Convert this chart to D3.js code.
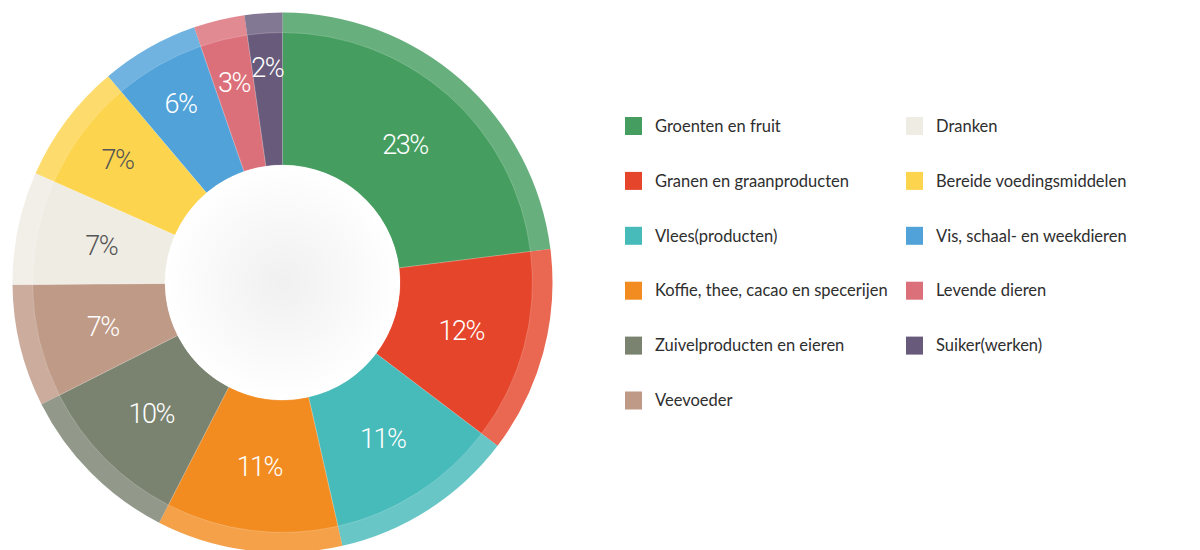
<!DOCTYPE html>
<html>
<head>
<meta charset="utf-8">
<script src="https://cdn.jsdelivr.net/npm/d3@7"></script>
<style>
  body { margin: 0; background: #fff; }
  .legend-text { font-family: "Lato", "Open Sans", sans-serif; font-size: 16.5px; fill: #2e2e2e; }
  .pct { font-family: "Roboto", sans-serif; font-weight: 300; font-size: 27px; letter-spacing: -1.5px; }
</style>
</head>
<body>
<div id="main"></div>
<script>
// shares per product group (percent)
var categories = ["Groenten en fruit", "Granen en graanproducten", "Vlees(producten)",
    "Koffie, thee, cacao en specerijen", "Zuivelproducten en eieren", "Veevoeder",
    "Dranken", "Bereide voedingsmiddelen", "Vis, schaal- en weekdieren",
    "Levende dieren", "Suiker(werken)"];
var values = [23.0, 12.3, 11.1, 11.1, 10.0, 7.3, 6.75, 7.2, 5.86, 3.05, 2.25];
var colors = ["#459e60", "#e5452b", "#47baba", "#f28c21", "#7a8370", "#bf9a87",
    "#eeece3", "#fdd44d", "#50a2d9", "#dc707a", "#685a7b"];
var darkLabels = ["Dranken", "Bereide voedingsmiddelen"];

const w = 1200;
const h = 550;
const cx = 282.5, cy = 282.5;
const rIn = 117.5, rMain = 250, rOut = 270;

const svg = d3.select("#main").append("svg").attr("width", w).attr("height", h);

var defs = svg.append("defs");
var grad = defs.append("radialGradient").attr("id", "hole");
grad.append("stop").attr("offset", "0%").attr("stop-color", "#f0f0f0");
grad.append("stop").attr("offset", "100%").attr("stop-color", "#ffffff");

var pie = d3.pie().sort(null).value(d => d);
var arcs = pie(values);

var g = svg.append("g").attr("transform", "translate(" + cx + "," + cy + ")");

var outerArc = d3.arc().innerRadius(rIn).outerRadius(rOut);
var mainArc = d3.arc().innerRadius(rIn).outerRadius(rMain);

// lighter outer rim
g.selectAll("path.rim")
    .data(arcs)
    .enter()
    .append("path")
    .attr("class", "rim")
    .attr("d", outerArc)
    .style("fill", (d, i) => colors[i])
    .style("opacity", 0.82);

g.selectAll("path.slice")
    .data(arcs)
    .enter()
    .append("path")
    .attr("class", "slice")
    .attr("d", mainArc)
    .style("fill", (d, i) => colors[i])
    .style("stroke", "#fff")
    .style("stroke-opacity", 0.35)
    .style("stroke-width", 0.6);

g.append("circle").attr("r", rIn).style("fill", "url(#hole)");

// percentage labels
g.selectAll("text.pct")
    .data(arcs)
    .enter()
    .append("text")
    .attr("class", "pct")
    .attr("transform", function (d) {
        var mid = (d.startAngle + d.endAngle) / 2;
        var r = 185;
        if (mid > 5.0) r = d.value < 2.5 ? 216 : 206;
        return "translate(" + (Math.sin(mid) * r) + "," + (-Math.cos(mid) * r) + ")";
    })
    .attr("text-anchor", "middle")
    .attr("dy", "0.36em")
    .style("fill", (d, i) => darkLabels.indexOf(categories[i]) >= 0 ? "#555" : "#fff")
    .text(d => Math.round(d.value) + "%");

// legend, two columns
var legend = svg.append("g");
var items = legend.selectAll("g")
    .data(categories)
    .enter()
    .append("g")
    .attr("transform", function (d, i) {
        var col = i < 6 ? 0 : 1;
        var row = i < 6 ? i : i - 6;
        return "translate(" + (625 + col * 281) + "," + (126 + row * 54.9) + ")";
    });

items.append("rect")
    .attr("x", 0)
    .attr("y", -9)
    .attr("width", 17)
    .attr("height", 18)
    .style("fill", (d, i) => colors[i]);

items.append("text")
    .attr("class", "legend-text")
    .attr("x", 30)
    .attr("dy", "0.35em")
    .text(d => d);
</script>
</body>
</html>
